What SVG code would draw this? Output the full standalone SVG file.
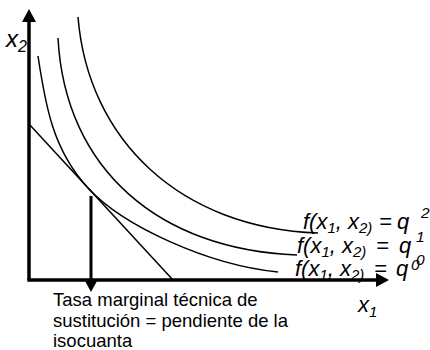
<svg xmlns="http://www.w3.org/2000/svg" width="430" height="350" viewBox="0 0 430 350">
<style>
.curve{fill:none;stroke:#000;stroke-width:1.5}
.axis{fill:none;stroke:#000;stroke-width:3.5}
.math{font-family:"Liberation Sans",Arial,sans-serif;font-style:italic;font-size:22px;fill:#000}
.sm{font-size:15px}
.idx{font-family:"Liberation Sans",Arial,sans-serif;font-style:italic;font-size:15.5px;fill:#000}
.desc{font-family:"Liberation Sans",Arial,sans-serif;font-size:18.5px;fill:#000}
.head{fill:#000}
</style>
<rect width="430" height="350" fill="#fff"/>
<g id="axes">
<line class="axis" x1="29" y1="280" x2="29" y2="20"/>
<polygon class="head" points="29,9 22,22 36,22"/>
<line class="axis" x1="27.3" y1="280" x2="378" y2="280"/>
<polygon class="head" points="389,280 376,273 376,287"/>
</g>
<g id="isoquants">
<path id="q0" class="curve" d="M38,56 C45.5,106 53,150 88,188 C123,226 208,265 278,272"/>
<path id="q1" class="curve" d="M58,38 C65,170 160,250 297,255"/>
<path id="q2" class="curve" d="M78,17 C88,140 180,228 318,233"/>
</g>
<g id="connectors">
<line x1="29" y1="124" x2="173" y2="280" stroke="#000" stroke-width="1.5"/>
<line x1="91" y1="196" x2="91" y2="283" stroke="#000" stroke-width="3"/>
<polygon class="head" points="91,292 85,281 97,281"/>
</g>
<g id="labels">
<text class="math" x="6" y="47" style="font-size:24px">x<tspan class="sm" dy="5" style="font-size:16px">2</tspan></text>
<text class="math" x="358" y="312">x<tspan class="sm" dy="5">1</tspan></text>
<text class="math" x="303" y="229">f(x<tspan class="sm" dy="4">1</tspan><tspan dy="-4">, x</tspan><tspan class="sm" dy="4">2)</tspan><tspan x="379" dy="-4">=</tspan><tspan x="397">q</tspan></text>
<text class="idx" x="421" y="218">2</text>
<text class="idx" x="416" y="242">1</text>
<text class="math" x="297" y="253">f(x<tspan class="sm" dy="4">1</tspan><tspan dy="-4">, x</tspan><tspan class="sm" dy="4">2)</tspan><tspan x="376" dy="-4">=</tspan><tspan x="399">q</tspan></text>
<text class="idx" x="416" y="265">0</text>
<text class="math" x="295" y="276">f(x<tspan class="sm" dy="4">1</tspan><tspan dy="-4">, x</tspan><tspan class="sm" dy="4">2)</tspan><tspan x="374" dy="-4">=</tspan><tspan x="396">q</tspan></text>
<text class="idx" x="411" y="270">0</text>
</g>
<g id="description">
<text class="desc" x="53" y="306">Tasa marginal técnica de</text>
<text class="desc" x="53" y="327">sustitución = pendiente de la</text>
<text class="desc" x="53" y="347">isocuanta</text>
</g>
</svg>
